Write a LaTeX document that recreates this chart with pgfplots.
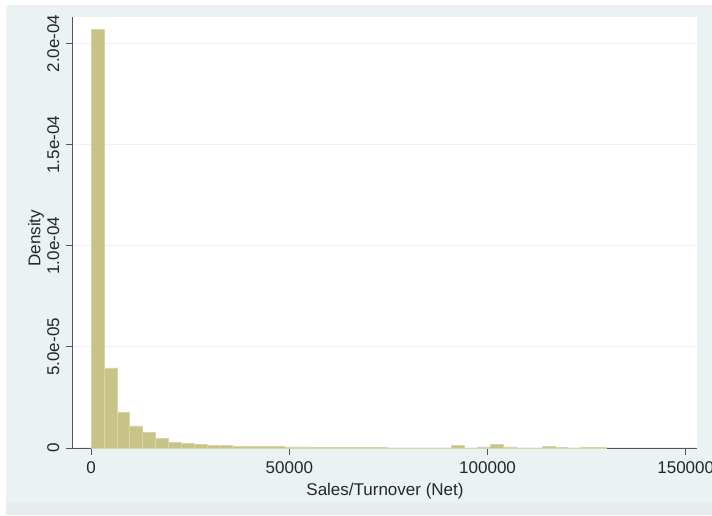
\documentclass[border=0pt]{standalone}
\usepackage{fontspec}
\setmainfont{Liberation Sans}
\usepackage{pgfplots}
\pgfplotsset{compat=1.18}
\definecolor{bgc}{RGB}{234,242,243}
\definecolor{bgd}{RGB}{229,237,239}
\definecolor{barc}{RGB}{200,195,135}
\definecolor{barl}{RGB}{216,212,168}
\definecolor{axc}{RGB}{85,85,85}
\begin{document}
\begin{tikzpicture}
\fill[white] (0pt,0pt) rectangle (712pt,-515pt);
\fill[bgc] (6pt,-5pt) rectangle (712pt,-515pt);
\fill[bgd] (6pt,-503pt) rectangle (712pt,-515pt);
\begin{axis}[
 at={(73pt,-448pt)}, anchor=south west,
 scale only axis, width=624pt, height=431pt,
 xmin=-4590, xmax=152840, ymin=0, ymax=2.131e-4,
 axis background/.style={fill=white},
 axis x line*=bottom, axis y line*=left,
 axis line style={draw=axc, line width=1pt},
 tick align=outside, major tick length=7pt,
 tick style={draw=axc, line width=1pt},
 xtick={0,50000,100000,150000}, xticklabels={0,50000,100000,150000},
 ytick={0,5e-5,1e-4,1.5e-4,2e-4}, yticklabels={0,5.0e-05,1.0e-04,1.5e-04,2.0e-04},
 scaled x ticks=false, scaled y ticks=false,
 ymajorgrids, major grid style={draw=bgc, line width=1.2pt},
 ticklabel style={font=\fontsize{17}{20}\selectfont, text=black!85},
 yticklabel style={rotate=90, anchor=south, inner xsep=0pt, inner ysep=6.5pt},
 xticklabel style={anchor=north, inner ysep=6.5pt},
 label style={font=\fontsize{17}{20}\selectfont, text=black!85},
 xlabel={Sales/Turnover (Net)},
 xlabel style={at={(axis description cs:0.5,0)}, anchor=base, yshift=-47pt},
 ylabel={Density},
 ylabel style={at={(axis description cs:-0.0593,0.487)}, anchor=center, rotate=0},
]
\addplot[ybar interval, fill=barc, draw=barl, line width=0.8pt] coordinates {
(0,2.070e-4) (3250,3.96e-5) (6500,1.77e-5) (9750,1.09e-5) (13000,7.5e-6)
(16250,4.85e-6) (19500,2.9e-6) (22750,2.3e-6) (26000,1.55e-6) (29250,1.2e-6)
(32500,1.1e-6) (35750,8e-7) (39000,8e-7) (42250,7e-7) (45500,7e-7)
(48750,5e-7) (52000,5e-7) (55250,4e-7) (58500,4e-7) (61750,4e-7)
(65000,4e-7) (68250,4e-7) (71500,4e-7) (74750,0) (78000,0)
(81250,0) (84500,0) (87750,0) (91000,1.15e-6) (94250,0)
(97500,5e-7) (100750,1.6e-6) (104000,5e-7) (107250,0) (110500,0)
(113750,6e-7) (117000,4e-7) (120250,0) (123500,4e-7) (126750,4e-7)
(130000,0)
};
\end{axis}
\pgfresetboundingbox
\useasboundingbox (0pt,0pt) rectangle (712pt,-515pt);
\end{tikzpicture}
\end{document}
